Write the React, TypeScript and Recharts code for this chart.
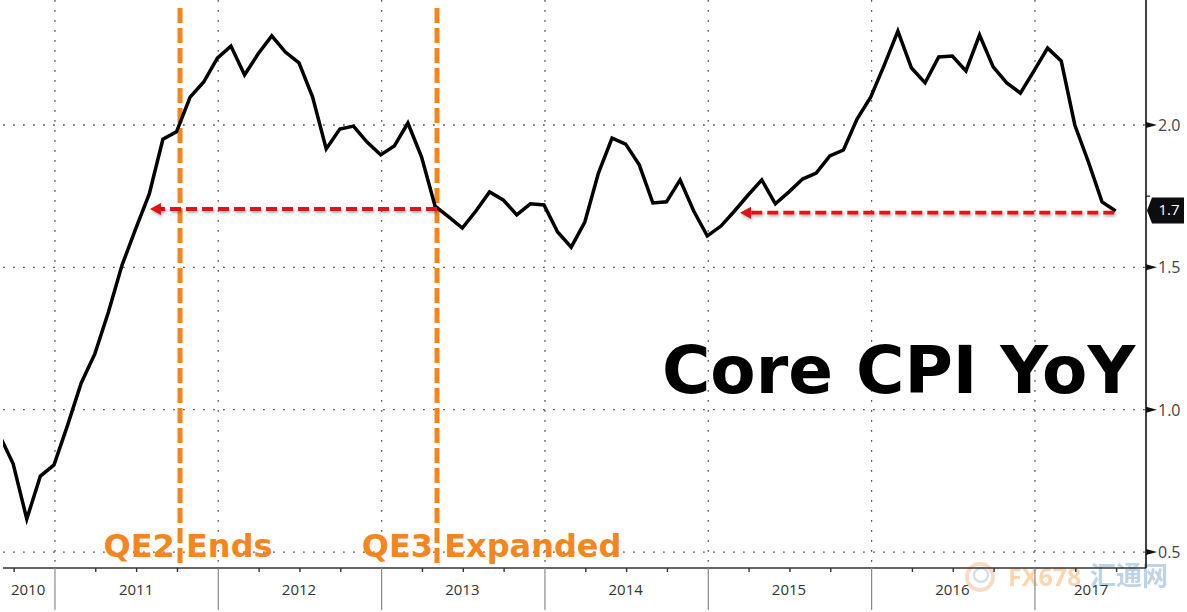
import {
  CartesianGrid,
  Line,
  LineChart,
  ReferenceDot,
  ReferenceLine,
  XAxis,
  YAxis,
} from "recharts";

// Core CPI YoY, monthly. Index 0 sits just left of the plot and gets clipped.
const cpiValues = [
  0.91, 0.81, 0.616, 0.767, 0.806, 0.946, 1.094, 1.196, 1.343, 1.508, 1.635, 1.758,
  1.95, 1.976, 2.098, 2.151, 2.235, 2.277, 2.176, 2.25, 2.313, 2.256, 2.218, 2.098,
  1.916, 1.986, 1.996, 1.94, 1.895, 1.926, 2.007, 1.888, 1.715, 1.677, 1.638, 1.698,
  1.765, 1.737, 1.684, 1.723, 1.719, 1.624, 1.571, 1.659, 1.831, 1.954, 1.933, 1.86,
  1.726, 1.73, 1.807, 1.698, 1.61, 1.645, 1.698, 1.754, 1.807, 1.723, 1.765, 1.81,
  1.831, 1.891, 1.912, 2.021, 2.098, 2.21, 2.33, 2.2, 2.148, 2.239, 2.242, 2.19,
  2.316, 2.204, 2.148, 2.112, 2.19, 2.27, 2.225, 2.0, 1.87, 1.73, 1.698,
];

const chartData = cpiValues.map((cpi, month) => ({ month, cpi }));

const xDomain = [0.253, 84.23];
const yDomain = [0.444, 2.439];

const yearStarts = [4.07, 16.07, 28.07, 40.07, 52.07, 64.07, 76.07];
const quarterTicks = [
  1.07, 4.07, 7.07, 10.07, 13.07, 16.07, 19.07, 22.07, 25.07, 28.07, 31.07, 34.07, 37.07,
  40.07, 43.07, 46.07, 49.07, 52.07, 55.07, 58.07, 61.07, 64.07, 67.07, 70.07, 73.07,
  76.07, 79.07, 82.07,
];
const yearLabels = ["2010", "2011", "2012", "2013", "2014", "2015", "2016", "2017"];
const yearLabelTicks = [2.1, 10.03, 22, 34, 46, 58, 70, 80.2];
const yTicks = [0.5, 1, 1.5, 1.7, 1.75, 2];
const lastValue = 1.7;
const minorTick = 1.75;

const events = [
  { month: 13.26, label: "QE2 Ends", labelMonth: 13.85 },
  { month: 32.14, label: "QE3 Expanded", labelMonth: 36.15 },
];
const arrows = [
  { from: 32.14, to: 11.8, value: 1.705 },
  { from: 81.9, to: 55.15, value: 1.692 },
];

const ORANGE = "#f5861f";
const RED = "#e11414";
const LABEL_FONT = "'Open Sans', sans-serif";
const redShadow = { filter: "drop-shadow(1px 2px 1.5px rgba(0,0,0,0.3))" };

function QuarterTick({ x, y, payload }: any) {
  const isYear = yearStarts.includes(payload.value);
  return (
    <line
      x1={x}
      x2={x}
      y1={y}
      y2={y + (isYear ? 42 : 4)}
      stroke={isYear ? "#8a8a8a" : "#333"}
      strokeWidth={isYear ? 1.2 : 1.4}
    />
  );
}

function PriceTick({ x, y, payload }: any) {
  if (payload.value === minorTick) {
    return <line x1={x} x2={x + 4} y1={y} y2={y} stroke="#111" strokeWidth={1.2} />;
  }
  if (payload.value === lastValue) {
    return (
      <g>
        <path
          d={`M ${x + 1} ${y} L ${x + 6} ${y - 13} H ${x + 38} V ${y + 13} H ${x + 6} Z`}
          fill="#0d0d0d"
        />
        <text
          x={x + 23}
          y={y + 5}
          textAnchor="middle"
          fill="#fff"
          fontSize={15}
          fontFamily={LABEL_FONT}
        >
          {payload.value.toFixed(1)}
        </text>
      </g>
    );
  }
  return (
    <g>
      <path d={`M ${x} ${y - 3} L ${x + 11} ${y} L ${x} ${y + 3} Z`} fill="#111" />
      <text x={x + 12} y={y + 6} fill="#444" fontSize={16} fontFamily={LABEL_FONT}>
        {payload.value.toFixed(1)}
      </text>
    </g>
  );
}

function ArrowHead({ cx, cy }: any) {
  return (
    <path
      d={`M ${cx} ${cy} L ${cx + 11} ${cy - 6} V ${cy + 6} Z`}
      fill={RED}
      style={redShadow}
    />
  );
}

export default function App() {
  return (
    <div style={{ position: "absolute", left: 0, top: 0, width: 1187, height: 612, background: "#fff" }}>
      <LineChart
        width={1187}
        height={612}
        data={chartData}
        margin={{ top: 0, right: 0, bottom: 0, left: 3 }}
      >
        <CartesianGrid
          stroke="#555"
          strokeWidth={1.3}
          strokeDasharray="1.8 8.2"
          horizontalValues={[0.5, 1, 1.5, 2]}
          verticalValues={yearStarts}
          xAxisId="quarters"
          yAxisId="price"
        />
        <XAxis
          xAxisId="quarters"
          dataKey="month"
          type="number"
          domain={xDomain}
          allowDataOverflow
          ticks={quarterTicks}
          interval={0}
          height={10}
          axisLine={{ stroke: "#333", strokeWidth: 1.4 }}
          tickLine={false}
          tickSize={0}
          tickMargin={0}
          tick={<QuarterTick />}
        />
        <XAxis
          xAxisId="years"
          dataKey="month"
          type="number"
          domain={xDomain}
          allowDataOverflow
          ticks={yearLabelTicks}
          interval={0}
          height={34}
          axisLine={false}
          tickLine={false}
          tickMargin={0}
          tickFormatter={(_v: number, i: number) => yearLabels[i]}
          tick={{ fontSize: 15, fill: "#333", fontFamily: LABEL_FONT }}
        />
        <YAxis
          yAxisId="price"
          orientation="right"
          type="number"
          domain={yDomain}
          allowDataOverflow
          ticks={yTicks}
          interval={0}
          width={41}
          axisLine={{ stroke: "#111", strokeWidth: 1.6 }}
          tickLine={false}
          tickSize={0}
          tickMargin={0}
          tick={<PriceTick />}
        />

        {events.map((e) => (
          <ReferenceLine
            key={e.label}
            xAxisId="quarters"
            yAxisId="price"
            segment={[
              { x: e.month, y: 2.411 },
              { x: e.month, y: 0.46 },
            ]}
            stroke={ORANGE}
            strokeWidth={5}
            strokeDasharray="15 5"
          />
        ))}

        <Line
          xAxisId="quarters"
          yAxisId="price"
          type="linear"
          dataKey="cpi"
          stroke="#000"
          strokeWidth={3.5}
          strokeLinejoin="miter"
          dot={false}
          activeDot={false}
          isAnimationActive={false}
        />

        {arrows.map((a) => (
          <ReferenceLine
            key={a.from}
            xAxisId="quarters"
            yAxisId="price"
            segment={[
              { x: a.from, y: a.value },
              { x: a.to, y: a.value },
            ]}
            stroke={RED}
            strokeWidth={3.8}
            strokeDasharray="11 5"
            style={redShadow}
          />
        ))}
        {arrows.map((a) => (
          <ReferenceDot
            key={a.to}
            xAxisId="quarters"
            yAxisId="price"
            x={a.to - 0.75}
            y={a.value}
            shape={<ArrowHead />}
          />
        ))}

        {events.map((e) => (
          <ReferenceDot
            key={e.label}
            xAxisId="quarters"
            yAxisId="price"
            x={e.labelMonth}
            y={0.522}
            r={0}
            stroke="none"
            label={{
              value: e.label,
              position: "center",
              fill: ORANGE,
              fontSize: 32,
              fontWeight: 700,
              fontFamily: "'DejaVu Sans', sans-serif",
            }}
          />
        ))}

        <ReferenceDot
          xAxisId="quarters"
          yAxisId="price"
          x={66.05}
          y={1.14}
          r={0}
          stroke="none"
          label={{
            value: "Core CPI YoY",
            position: "center",
            fill: "#000",
            fontSize: 66,
            fontWeight: 700,
            fontFamily: "'DejaVu Sans', sans-serif",
          }}
        />

        <g opacity={0.4}>
          <circle cx={980} cy={577} r={13} fill="none" stroke="#f3a768" strokeWidth={4} />
          <circle cx={981} cy={575} r={7} fill="none" stroke="#8fb1d8" strokeWidth={2.5} />
          <text
            x={1008}
            y={586}
            fontSize={25}
            fontWeight={700}
            fill="#f59a3a"
            fontFamily="'Open Sans', sans-serif"
          >
            FX678
          </text>
          <text x={1090} y={585} fontSize={26} fontWeight={700} fill="#5f90c8" fontFamily="'Noto Sans CJK SC', sans-serif">
            汇通网
          </text>
        </g>
      </LineChart>
    </div>
  );
}
